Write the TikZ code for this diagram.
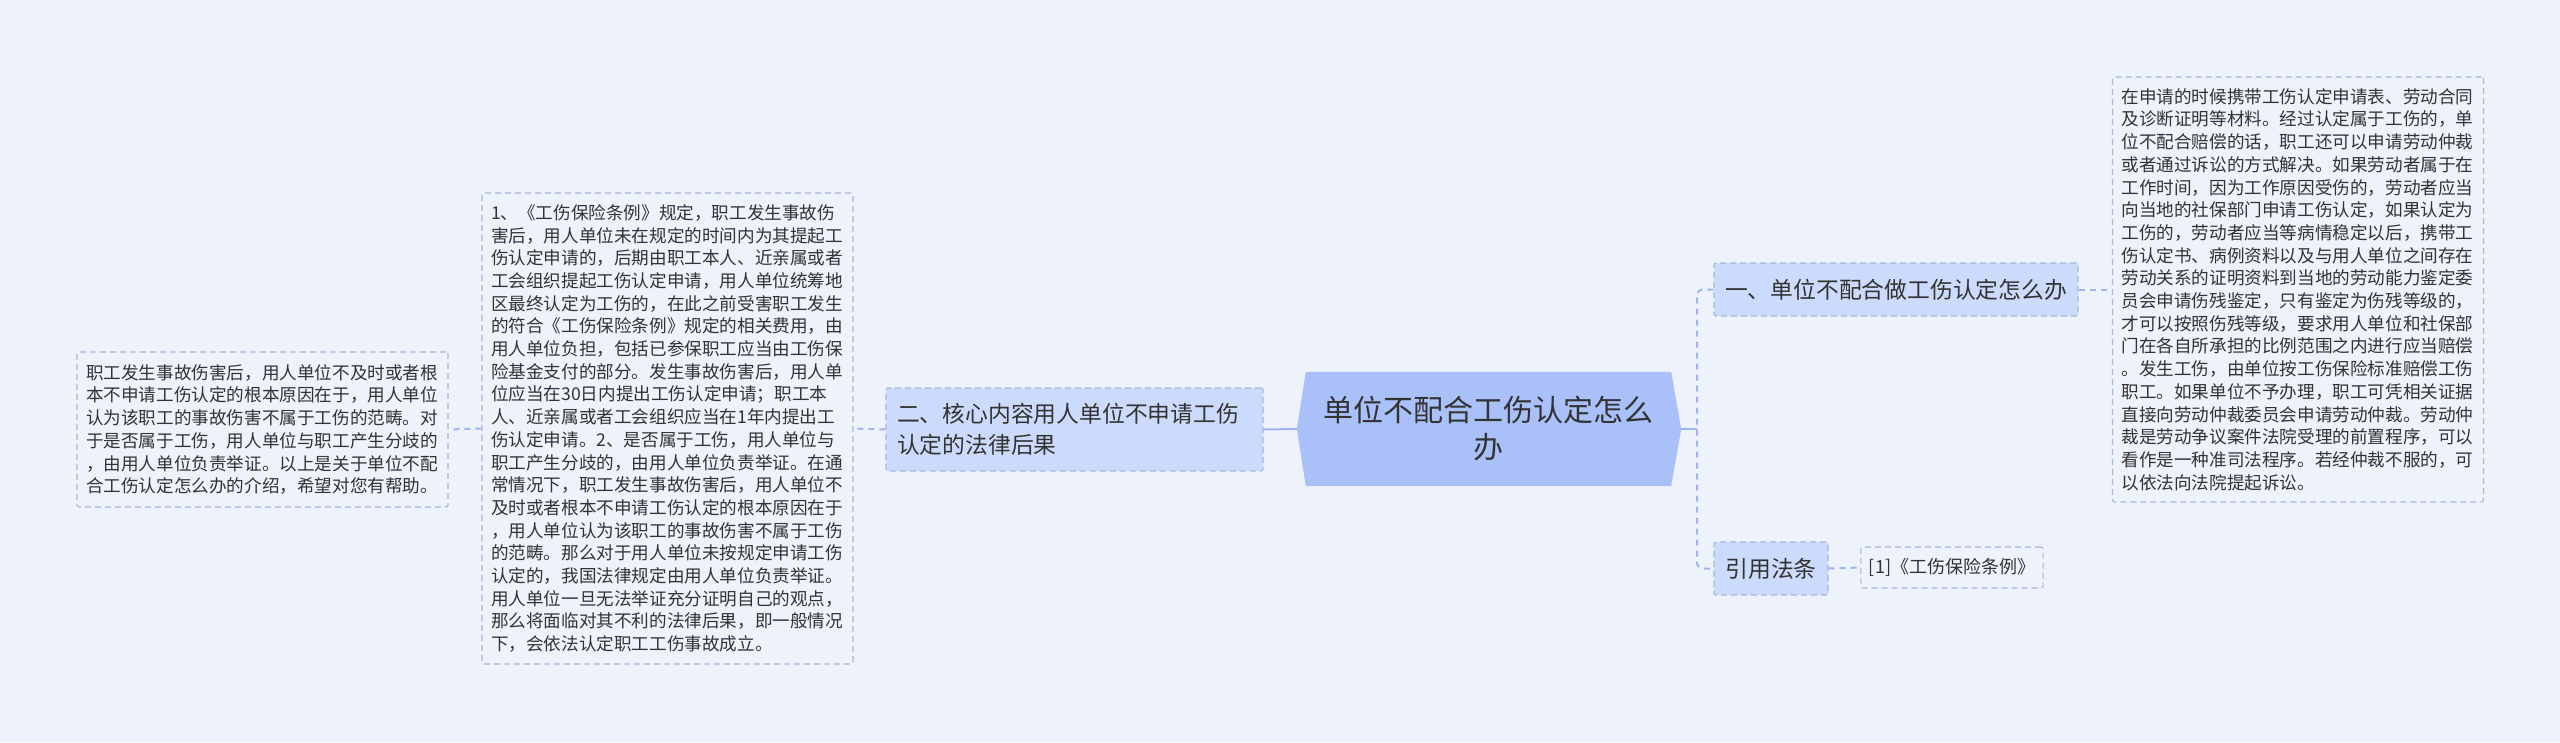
\documentclass[tikz,border=0pt]{standalone}
\usepackage{fontspec}
\setmainfont{Noto Sans CJK SC}
\usetikzlibrary{backgrounds}
\definecolor{bgc}{HTML}{EEF2FB}
\definecolor{hubc}{HTML}{A9C0F8}
\definecolor{subc}{HTML}{CCDAFB}
\definecolor{edgec}{HTML}{A0B5EC}
\definecolor{bordc}{HTML}{A6B6DD}
\definecolor{txt}{HTML}{333333}
\begin{document}
\begin{tikzpicture}[x=1pt,y=-1pt,
  textbox/.style={draw=bordc, line width=1.1pt, dash pattern=on 6pt off 4pt, rounded corners=2pt,
    inner xsep=9pt, inner ysep=0pt, text width=353pt, minimum width=371pt, align=left,
    font=\fontsize{17.6}{22.7}\selectfont, text=txt},
  subbox/.style={draw=bordc, fill=subc, line width=1.1pt, dash pattern=on 6pt off 4pt, rounded corners=2pt,
    inner xsep=11pt, inner ysep=0pt, font=\fontsize{22.8}{31}\selectfont, text=txt},
  refbox/.style={draw=bordc, line width=1.1pt, dash pattern=on 6pt off 4pt, rounded corners=2pt,
    inner xsep=8pt, inner ysep=0pt, font=\fontsize{18}{22}\selectfont, text=txt},
  hubtext/.style={inner sep=0pt, minimum width=365pt, minimum height=114pt, align=center,
    font=\fontsize{30}{37}\selectfont, text=txt},
  solidlink/.style={draw=edgec, line width=2pt},
  dashlink/.style={draw=edgec, line width=2pt, dash pattern=on 6pt off 5pt}
]
\useasboundingbox (0,0) rectangle (2560,742);

% central node
\node[hubtext] (hub) at (1488.5,429) {单位不配合工伤认定怎么\\办};

% left branch
\node[subbox, minimum width=377pt, minimum height=83pt, text width=355pt, align=left] (n2) at (1074.5,429.5)
  {二、核心内容用人单位不申请工伤\\认定的法律后果};
\node[textbox, minimum height=471pt] (m1) at (667.5,428.5) {1、《工伤保险条例》规定，职工发生事故伤\\
害后，用人单位未在规定的时间内为其提起工\\
伤认定申请的，后期由职工本人、近亲属或者\\
工会组织提起工伤认定申请，用人单位统筹地\\
区最终认定为工伤的，在此之前受害职工发生\\
的符合《工伤保险条例》规定的相关费用，由\\
用人单位负担，包括已参保职工应当由工伤保\\
险基金支付的部分。发生事故伤害后，用人单\\
位应当在30日内提出工伤认定申请；职工本\\
人、近亲属或者工会组织应当在1年内提出工\\
伤认定申请。2、是否属于工伤，用人单位与\\
职工产生分歧的，由用人单位负责举证。在通\\
常情况下，职工发生事故伤害后，用人单位不\\
及时或者根本不申请工伤认定的根本原因在于\\
，用人单位认为该职工的事故伤害不属于工伤\\
的范畴。那么对于用人单位未按规定申请工伤\\
认定的，我国法律规定由用人单位负责举证。\\
用人单位一旦无法举证充分证明自己的观点，\\
那么将面临对其不利的法律后果，即一般情况\\
下，会依法认定职工工伤事故成立。};
\node[textbox, minimum height=155pt] (l1) at (262.5,429.5) {职工发生事故伤害后，用人单位不及时或者根\\
本不申请工伤认定的根本原因在于，用人单位\\
认为该职工的事故伤害不属于工伤的范畴。对\\
于是否属于工伤，用人单位与职工产生分歧的\\
，由用人单位负责举证。以上是关于单位不配\\
合工伤认定怎么办的介绍，希望对您有帮助。};

% right branch
\node[subbox, minimum width=364pt, minimum height=53pt] (n1) at (1896,289.5) {一、单位不配合做工伤认定怎么办};
\node[textbox, minimum height=425pt] (r1) at (2298,289.5) {在申请的时候携带工伤认定申请表、劳动合同\\
及诊断证明等材料。经过认定属于工伤的，单\\
位不配合赔偿的话，职工还可以申请劳动仲裁\\
或者通过诉讼的方式解决。如果劳动者属于在\\
工作时间，因为工作原因受伤的，劳动者应当\\
向当地的社保部门申请工伤认定，如果认定为\\
工伤的，劳动者应当等病情稳定以后，携带工\\
伤认定书、病例资料以及与用人单位之间存在\\
劳动关系的证明资料到当地的劳动能力鉴定委\\
员会申请伤残鉴定，只有鉴定为伤残等级的，\\
才可以按照伤残等级，要求用人单位和社保部\\
门在各自所承担的比例范围之内进行应当赔偿\\
。发生工伤，由单位按工伤保险标准赔偿工伤\\
职工。如果单位不予办理，职工可凭相关证据\\
直接向劳动仲裁委员会申请劳动仲裁。劳动仲\\
裁是劳动争议案件法院受理的前置程序，可以\\
看作是一种准司法程序。若经仲裁不服的，可\\
以依法向法院提起诉讼。};
\node[subbox, minimum width=114pt, minimum height=53pt] (n3) at (1771,568.5) {引用法条};
\node[refbox, minimum width=182pt, minimum height=41pt] (ref) at (1952,567.5) {[1]《工伤保险条例》};

% hexagon tips
\coordinate (hubL) at ([xshift=-9pt]hub.west);
\coordinate (hubR) at ([xshift=10pt]hub.east);
\coordinate (trunk) at (1697,429);

\begin{scope}[on background layer]
  \fill[bgc] (0,0) rectangle (2560,742);
  \fill[hubc] (hub.north west) -- (hubL) -- (hub.south west) -- (hub.south east) -- (hubR) -- (hub.north east) -- cycle;
\end{scope}

% connectors
\draw[solidlink] (hubL) -- (n2.east);
\draw[dashlink] (n2.west) -- (m1.east);
\draw[dashlink] (m1.west) -- (l1.east);
\draw[solidlink] (hubR) -- (trunk);
\draw[dashlink, rounded corners=6pt] (n1.west) -| (trunk) |- (n3.west);
\draw[dashlink] (n1.east) -- (r1.west);
\draw[dashlink] (n3.east) -- (ref.west);
\end{tikzpicture}
\end{document}
